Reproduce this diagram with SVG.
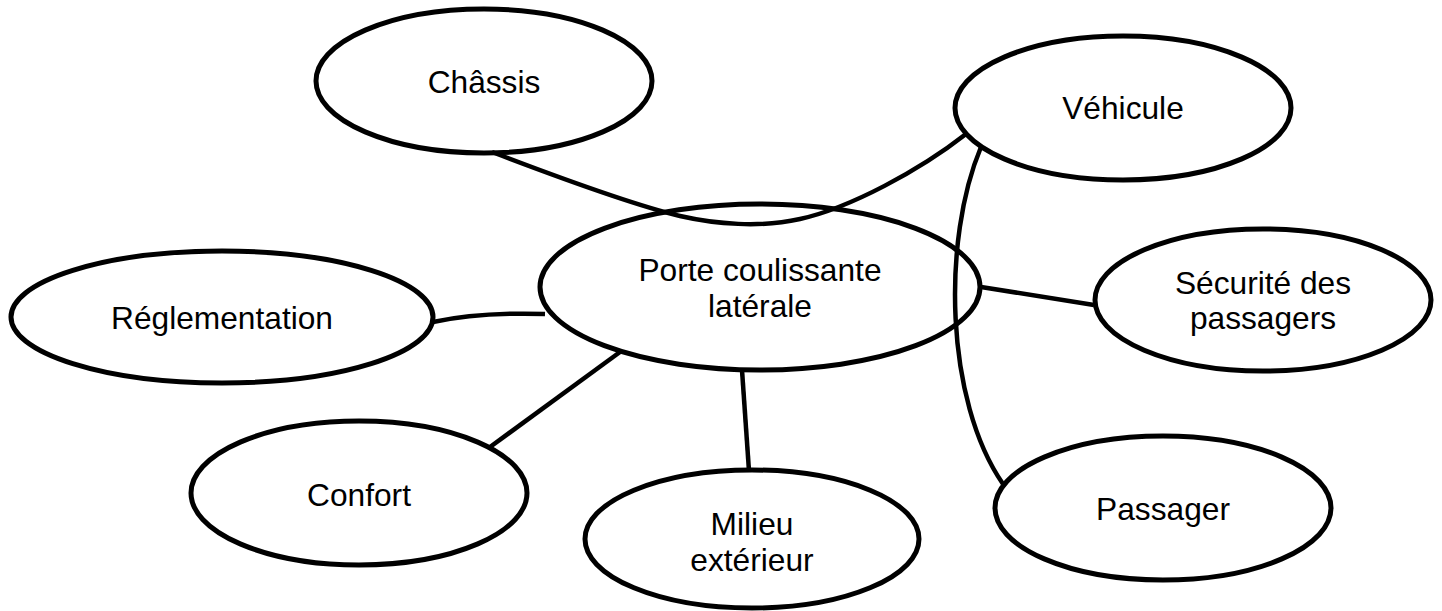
<svg xmlns="http://www.w3.org/2000/svg" width="1442" height="611" viewBox="0 0 1442 611">
<style>
.n{fill:#fff;stroke:#000;stroke-width:5}
.t{font-family:"Liberation Sans",Arial,sans-serif;font-size:31.7px;fill:#000;text-anchor:middle}
.c{fill:none;stroke:#000;stroke-width:4.5;stroke-linecap:butt}
</style>
<rect width="1442" height="611" fill="#fff"/>
<g id="chassis"><ellipse class="n" cx="484" cy="81" rx="168" ry="72"/><text class="t" x="484" y="93">Châssis</text></g>
<g id="vehicule"><ellipse class="n" cx="1123" cy="108" rx="168" ry="72"/><text class="t" x="1123" y="119">Véhicule</text></g>
<g id="porte"><ellipse class="n" cx="760" cy="287" rx="220" ry="83"/><text class="t" x="760" y="281">Porte coulissante</text><text class="t" x="760" y="317">latérale</text></g>
<g id="reglementation"><ellipse class="n" cx="222" cy="317" rx="211" ry="66"/><text class="t" x="222" y="329">Réglementation</text></g>
<g id="securite"><ellipse class="n" cx="1263" cy="300" rx="168" ry="71"/><text class="t" x="1263" y="294">Sécurité des</text><text class="t" x="1263" y="329">passagers</text></g>
<g id="confort"><ellipse class="n" cx="359" cy="493" rx="168" ry="72"/><text class="t" x="359" y="506">Confort</text></g>
<g id="milieu"><ellipse class="n" cx="752" cy="539" rx="167" ry="69"/><text class="t" x="752" y="535">Milieu</text><text class="t" x="752" y="571">extérieur</text></g>
<g id="passager"><ellipse class="n" cx="1163" cy="508" rx="168" ry="72"/><text class="t" x="1163" y="520">Passager</text></g>
<g id="connectors">
<path class="c" d="M 492 152 C 560 178, 630 204, 680 216 C 715 224, 760 228, 800 219 C 850 208, 920 170, 966 134"/>
<path class="c" d="M 981 147 C 942 240, 945 400, 1003 484"/>
<path class="c" d="M 981 287 L 1094 305"/>
<path class="c" d="M 433 322 Q 480 312, 545 314"/>
<path class="c" d="M 620 352 L 490 447"/>
<path class="c" d="M 742 370 L 749 471"/>
</g>
</svg>
